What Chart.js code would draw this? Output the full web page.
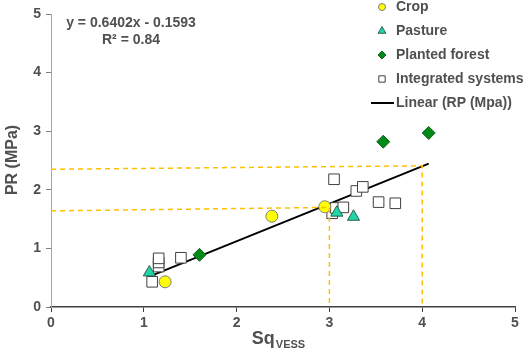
<!DOCTYPE html>
<html>
<head>
<meta charset="utf-8">
<script src="https://cdn.jsdelivr.net/npm/chart.js@4.4.1/dist/chart.umd.min.js"></script>
<style>
  html, body { margin: 0; padding: 0; background: #fff; }
  #wrap { width: 526px; height: 356px; }
</style>
</head>
<body>
<div id="wrap"><canvas id="sq"></canvas></div>
<script>
// values (SqVESS on x, PR in MPa on y)
var cropX = [1.23, 2.38, 2.95];
var cropY = [0.43, 1.55, 1.71];
var pastureX = [1.06, 3.08, 3.26];
var pastureY = [0.59, 1.61, 1.54];
var forestX = [1.60, 3.58, 4.07];
var forestY = [0.89, 2.82, 2.97];
var integratedX = [1.09, 1.16, 1.16, 1.16, 1.40, 3.03, 3.07, 3.15, 3.05, 3.29, 3.36, 3.53, 3.71];
var integratedY = [0.43, 0.69, 0.76, 0.83, 0.84, 1.60, 1.69, 1.70, 2.18, 1.98, 2.05, 1.79, 1.77];
// trend line y = 0.6402x - 0.1593, drawn over the range of the data
var slope = 0.6402, intercept = -0.1593;
var trendX = [1.07, 4.07];
// yellow guide lines
var guideAX = [0, 3, 3], guideAY = [1.64, 1.70, 0];
var guideBX = [0, 4, 4], guideBY = [2.35, 2.41, 0];
var ticks = [0, 1, 2, 3, 4, 5];

function pts(xs, ys) {
  return xs.map(function (x, i) { return { x: x, y: ys[i] }; });
}

var gray = '#505050';
var fam = '"Liberation Sans", Arial, sans-serif';

var overlay = {
  id: 'overlay',
  afterDraw: function (chart) {
    var c = chart.ctx;
    c.save();
    c.fillStyle = gray;
    // regression text
    c.font = 'bold 14px ' + fam;
    c.textAlign = 'center';
    c.textBaseline = 'middle';
    c.fillText('y = 0.6402x - 0.1593', 131, 23);
    c.fillText('R\u00b2 = 0.84', 131, 40);
    // y title
    c.save();
    c.translate(13, 160);
    c.rotate(-Math.PI / 2);
    c.font = 'bold 16px ' + fam;
    c.fillText('PR (MPa)', 0, 0);
    c.restore();
    // x title with subscript
    c.textAlign = 'left';
    c.textBaseline = 'alphabetic';
    c.font = 'bold 18px ' + fam;
    var w1 = c.measureText('Sq').width;
    c.font = 'bold 11px ' + fam;
    var w2 = c.measureText('VESS').width;
    var x0 = 278 - (w1 + w2) / 2;
    c.font = 'bold 18px ' + fam;
    c.fillText('Sq', x0, 344);
    c.font = 'bold 11px ' + fam;
    c.fillText('VESS', x0 + w1 + 1, 348);
    // legend built from the datasets
    c.font = 'bold 14px ' + fam;
    c.textBaseline = 'middle';
    var rows = [7, 31, 55, 79, 103];
    chart.data.datasets.filter(function (d) { return d.legendRow !== undefined; }).forEach(function (d) {
      var y = rows[d.legendRow];
      if (d.type === 'line') {
        c.strokeStyle = d.borderColor;
        c.lineWidth = 2;
        c.beginPath();
        c.moveTo(371, y);
        c.lineTo(394, y);
        c.stroke();
      } else {
        c.fillStyle = d.backgroundColor;
        c.strokeStyle = d.borderColor;
        c.lineWidth = 1;
        Chart.helpers.drawPoint(c, { pointStyle: d.pointStyle, rotation: 0, borderWidth: 1, radius: d.legendRadius }, 382, y);
      }
      c.fillStyle = gray;
      c.textAlign = 'left';
      c.fillText(d.label, 396, y);
    });
    c.restore();
  }
};

new Chart(document.getElementById('sq').getContext('2d'), {
  type: 'scatter',
  data: {
    datasets: [
      { label: 'guideA', type: 'line', data: pts(guideAX, guideAY), borderColor: '#FFC000', borderWidth: 1.5,
        borderDash: [5, 4], pointRadius: 0, fill: false, tension: 0 },
      { label: 'guideB', type: 'line', data: pts(guideBX, guideBY), borderColor: '#FFC000', borderWidth: 1.5,
        borderDash: [5, 4], pointRadius: 0, fill: false, tension: 0 },
      { label: 'Linear (RP (Mpa))', legendRow: 4, type: 'line',
        data: trendX.map(function (x) { return { x: x, y: slope * x + intercept }; }),
        borderColor: '#000000', borderWidth: 2, pointRadius: 0, fill: false, order: 5 },
      { label: 'Crop', legendRow: 0, data: pts(cropX, cropY), pointStyle: 'circle', pointRadius: 6, legendRadius: 3.5,
        backgroundColor: '#FFFF00', borderColor: '#7F7F7F', borderWidth: 1, order: 1 },
      { label: 'Pasture', legendRow: 1, data: pts(pastureX, pastureY), pointStyle: 'triangle', pointRadius: 7, legendRadius: 4.5,
        backgroundColor: '#1FD6A8', borderColor: '#2F5F50', borderWidth: 1, order: 0 },
      { label: 'Planted forest', legendRow: 2, data: pts(forestX, forestY), pointStyle: 'rectRot', pointRadius: 6.5, legendRadius: 4,
        backgroundColor: '#008A17', borderColor: '#1E5E1E', borderWidth: 1, order: 2 },
      { label: 'Integrated systems', legendRow: 3, data: pts(integratedX, integratedY), pointStyle: 'rect', pointRadius: 7.5, legendRadius: 4.5,
        backgroundColor: '#FFFFFF', borderColor: '#404040', borderWidth: 1, order: 3 }
    ]
  },
  options: {
    responsive: true,
    maintainAspectRatio: false,
    animation: false,
    layout: { padding: { left: 0, right: 11, top: 14, bottom: 0 } },
    plugins: { legend: { display: false }, tooltip: { enabled: false } },
    scales: {
      x: {
        type: 'linear', min: 0, max: 5,
        afterBuildTicks: function (s) { s.ticks = ticks.map(function (v) { return { value: v }; }); },
        afterFit: function (s) { s.height = 49; },
        grid: { drawOnChartArea: false, drawTicks: true, tickLength: 5, color: '#404040' },
        border: { color: '#404040', width: 1.5 },
        ticks: { color: gray, font: { family: fam, size: 14, weight: 'bold' }, padding: 3 }
      },
      y: {
        type: 'linear', min: 0, max: 5,
        afterBuildTicks: function (s) { s.ticks = ticks.map(function (v) { return { value: v }; }); },
        afterFit: function (s) { s.width = 51; },
        grid: { drawOnChartArea: false, drawTicks: true, tickLength: 5, color: '#808080' },
        border: { color: '#A6A6A6', width: 1 },
        ticks: { color: gray, font: { family: fam, size: 14, weight: 'bold' }, padding: 5 }
      }
    }
  },
  plugins: [overlay]
});
</script>
</body>
</html>
